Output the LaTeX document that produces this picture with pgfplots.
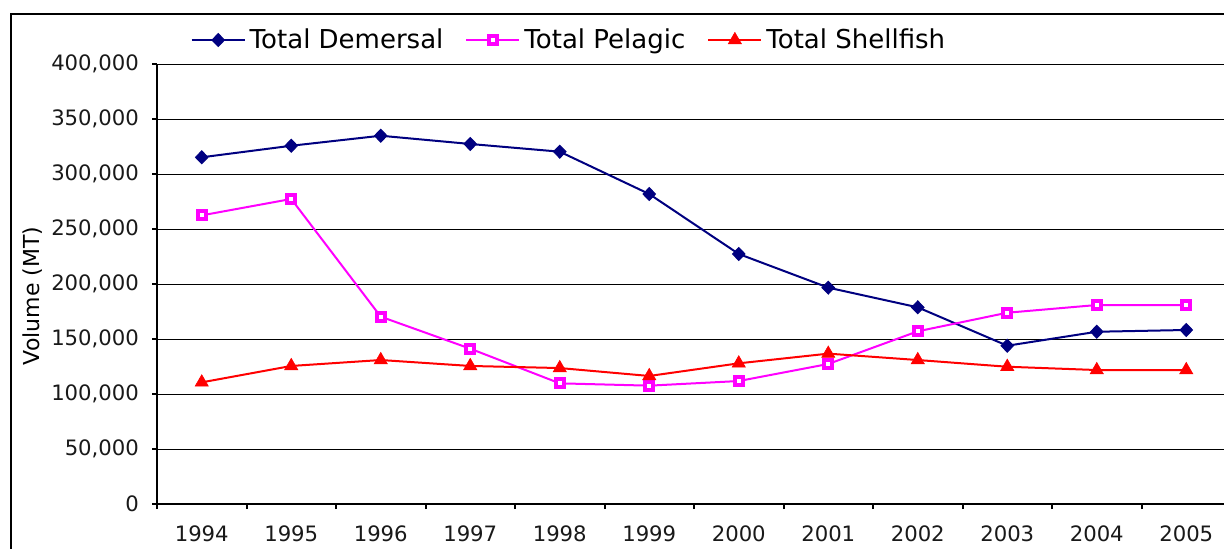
\documentclass[border=0pt]{standalone}
\usepackage{pgfplots}
\pgfplotsset{compat=1.18}
\usepackage{fontspec}
\setmainfont{DejaVu Sans}
\definecolor{navy}{HTML}{000080}
\definecolor{mag}{HTML}{FF00FF}
\definecolor{redA}{HTML}{FF0000}
\begin{document}
\begin{tikzpicture}
\useasboundingbox (0,0) rectangle (612pt,274pt);
\clip (0,0) rectangle (612pt,274pt);
\fill[white] (0,0) rectangle (612pt,274pt);
\draw[line width=1pt] (5.5pt,-20pt) -- (5.5pt,267pt) -- (640pt,267pt);
\begin{axis}[
  at={(78.5pt,22pt)}, anchor=south west,
  scale only axis, width=537pt, height=220pt,
  xmin=-0.5, xmax=11.5, ymin=0, ymax=400000,
  axis x line=bottom, axis y line=left,
  axis line style={-, line width=1pt, black},
  xtick={0,...,11},
  xticklabels={1994,1995,1996,1997,1998,1999,2000,2001,2002,2003,2004,2005},
  minor xtick={-0.5,0.5,...,11.5},
  major x tick style={draw=none},
  ytick={0,50000,...,400000},
  tick align=outside,
  major tick length=2.5pt, minor tick length=2.5pt,
  tick style={line width=1pt, black},
  ymajorgrids, grid style={black, line width=0.5pt},
  scaled y ticks=false,
  /pgf/number format/assume math mode=true,
  /pgf/number format/fixed,
  /pgf/number format/1000 sep={,},
  ticklabel style={font=\fontsize{10.6}{12}\selectfont, text=black!90},
  yticklabel style={xshift=-3pt},
  xticklabel style={yshift=-5pt},
  ylabel={Volume (MT)},
  ylabel style={at={(axis description cs:-0.1155,0.473)}, anchor=center, font=\fontsize{11}{13}\selectfont},
  legend style={at={(axis description cs:0.3845,1.0545)}, anchor=center, draw=none, fill=none,
    legend columns=-1, font=\fontsize{13}{15}\selectfont,
    /tikz/every even column/.append style={column sep=9pt}},
  legend image code/.code={\draw[mark repeat=2,mark phase=2] plot coordinates {(0pt,0pt) (13.25pt,0pt) (26.5pt,0pt)};},
]
\addplot[navy, line width=1pt, mark=diamond*, mark size=3.2pt, mark options={solid, fill=navy, xscale=1.3, line width=0.5pt}]
 coordinates {(0,315200) (1,325700) (2,334800) (3,327300) (4,320300) (5,281800) (6,227300) (7,196700) (8,178800) (9,143900) (10,156600) (11,158200)};
\addlegendentry{Total Demersal}
\addplot[mag, line width=1pt, mark=square*, mark size=2pt, mark options={solid, fill=white, draw=mag, line width=2pt}]
 coordinates {(0,262400) (1,277300) (2,170300) (3,141200) (4,109700) (5,107600) (6,111800) (7,127300) (8,157000) (9,173900) (10,180900) (11,180900)};
\addlegendentry{Total Pelagic}
\addplot[redA, line width=1pt, mark=triangle*, mark size=3.8pt, mark options={solid, fill=redA, line width=0.3pt}]
 coordinates {(0,110600) (1,125500) (2,130900) (3,125500) (4,123600) (5,116400) (6,127900) (7,136700) (8,130900) (9,124800) (10,121800) (11,121800)};
\addlegendentry{Total Shellfish}
\end{axis}
\end{tikzpicture}
\end{document}
